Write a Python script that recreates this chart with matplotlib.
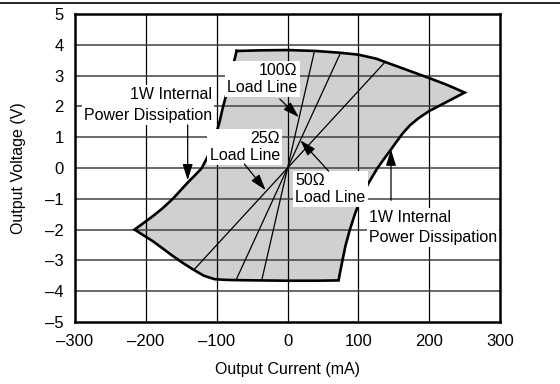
import numpy as np
import matplotlib
matplotlib.use("Agg")
import matplotlib.pyplot as plt
from matplotlib.patches import Polygon
from matplotlib.lines import Line2D

plt.rcParams['font.family'] = ['Liberation Sans', 'DejaVu Sans']

# Safe operating boundary, clockwise from the top-left corner (mA, V)
top_i = [-72, -40, 0, 40, 75, 100, 125, 150, 175, 200, 225, 250]
top_v = [3.80, 3.82, 3.83, 3.80, 3.74, 3.68, 3.55, 3.34, 3.13, 2.92, 2.70, 2.45]
right_i = [225, 200, 185, 173, 163, 154, 145, 136, 127, 114, 103, 95, 88, 82, 77.5, 74, 72]
right_v = [2.15, 1.85, 1.62, 1.39, 1.14, 0.86, 0.57, 0.29, 0.00, -0.50, -1.00, -1.50,
           -2.00, -2.50, -3.00, -3.40, -3.65]
bottom_i = [40, 0, -40, -75, -90]
bottom_v = [-3.66, -3.66, -3.65, -3.64, -3.63]
lowleft_i = [-103, -118, -133, -148, -163, -177, -190, -205, -216]
lowleft_v = [-3.61, -3.50, -3.30, -3.08, -2.84, -2.60, -2.38, -2.16, -2.00]
upleft_i = [-203, -190, -176, -162, -150, -140, -130, -121, -110, -102, -96, -91,
            -85, -80, -76, -72]
upleft_v = [-1.78, -1.56, -1.30, -1.00, -0.70, -0.45, -0.22, 0.00, 0.50, 1.00, 1.50,
            2.00, 2.50, 3.00, 3.40, 3.80]

# Load lines (ohms)
load_r = [25, 50, 100]

x_ticks = [-300, -200, -100, 0, 100, 200, 300]
y_ticks = [-5, -4, -3, -2, -1, 0, 1, 2, 3, 4, 5]
x_tick_labels = ["\u2013300", "\u2013200", "\u2013100", "0", "100", "200", "300"]
y_tick_labels = ["\u20135", "\u20134", "\u20133", "\u20132", "\u20131", "0", "1", "2", "3", "4", "5"]

fig = plt.figure(figsize=(5.6, 3.84), dpi=100)
ax = fig.add_axes([0.134, 0.1615, 0.759, 0.802])

bi = top_i + right_i + bottom_i + lowleft_i + upleft_i
bv = top_v + right_v + bottom_v + lowleft_v + upleft_v
pts = np.column_stack([bi, bv])

region = Polygon(pts, closed=True, facecolor="#d0d0d0", edgecolor="none", zorder=1)
ax.add_patch(region)

# grid on top of the shading
for x in x_ticks[1:-1]:
    ax.axvline(x, color="black", lw=0.9, zorder=2)
for y in y_ticks[1:-1]:
    ax.axhline(y, color="#404040", lw=1.1, zorder=2)

# load lines, clipped to the shaded region
i_span = np.array([-300.0, 300.0])
for r in load_r:
    ln, = ax.plot(i_span, r * i_span / 1000.0, color="black", lw=0.9, zorder=2.5)
    ln.set_clip_path(region)

ax.plot(bi + [bi[0]], bv + [bv[0]], color="black", lw=1.9, zorder=3,
        solid_joinstyle="miter")

box = dict(facecolor="white", edgecolor="none", pad=1.5)
fs = 11.5
arrow = dict(arrowstyle="-|>,head_length=0.7,head_width=0.22", color="black",
             lw=0.9, shrinkA=0, shrinkB=0, mutation_scale=14)

ax.text(-107, 2.05, "1W Internal\nPower Dissipation", ha="right", va="center",
        multialignment="right", fontsize=fs, linespacing=1.45, bbox=box, zorder=4)
ax.annotate("", xy=(-141, -0.4), xytext=(-141, 1.4), arrowprops=arrow, zorder=4)

ax.text(14, 2.89, "100\u03a9\nLoad Line", ha="right", va="center",
        multialignment="right", fontsize=fs, linespacing=1.15, bbox=box, zorder=4)
ax.annotate("", xy=(16, 1.65), xytext=(-11, 2.24), arrowprops=arrow, zorder=4)

ax.text(-11, 0.68, "25\u03a9\nLoad Line", ha="right", va="center",
        multialignment="right", fontsize=fs, linespacing=1.15, bbox=box, zorder=4)
ax.annotate("", xy=(-31, -0.72), xytext=(-61, 0.13), arrowprops=arrow, zorder=4)

ax.text(11, -0.68, "50\u03a9\nLoad Line", ha="left", va="center",
        multialignment="left", fontsize=fs, linespacing=1.15, bbox=box, zorder=4)
ax.annotate("", xy=(18, 0.9), xytext=(58, -0.1), arrowprops=arrow, zorder=4)

ax.text(114.5, -1.93, "1W Internal\nPower Dissipation", ha="left", va="center",
        multialignment="left", fontsize=fs, linespacing=1.45, bbox=box, zorder=4)
ax.annotate("", xy=(146, 0.6), xytext=(146, -1.05), arrowprops=arrow, zorder=4)

ax.set_xlim(-300, 300)
ax.set_ylim(-5, 5)
ax.set_xticks(x_ticks)
ax.set_xticklabels(x_tick_labels)
ax.set_yticks(y_ticks)
ax.set_yticklabels(y_tick_labels)
ax.tick_params(length=0, labelsize=12, pad=8)
ax.tick_params(axis="x", pad=9)
for s in ax.spines.values():
    s.set_linewidth(1.8)
    s.set_zorder(5)

ax.set_xlabel("Output Current (mA)", fontsize=11.5, labelpad=9)
ax.set_ylabel("Output Voltage (V)", fontsize=11.5, labelpad=14)

# rule across the top of the page
fig.add_artist(Line2D([0, 1], [1 - 3 / 384, 1 - 3 / 384], color="black", lw=1.2,
                      transform=fig.transFigure))

fig.savefig("out.png", dpi=100)
